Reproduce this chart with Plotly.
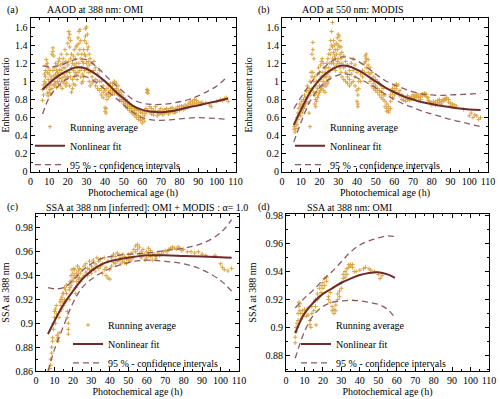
import plotly.graph_objects as go
from plotly.subplots import make_subplots

# (a) AAOD at 388 nm: OMI -- running average, one column of values per age
a_age = [6.5, 7, 7.5, 8, 8.5, 9, 9.5, 10, 10.5, 11, 11.5, 12, 12.5, 13, 13.5, 14, 14.5, 15, 15.5, 16,
         16.5, 17, 17.5, 18, 18.5, 19, 19.5, 20, 20.5, 21, 21.5, 22, 22.5, 23, 23.5, 24, 24.5, 25, 25.5, 26,
         26.5, 27, 27.5, 28, 28.5, 29, 29.5, 30, 30.5, 31, 31.5, 32, 33, 34, 35, 36, 37, 38, 39, 40,
         40.5, 41, 42, 43, 44, 45, 46, 47, 48, 49, 50, 51, 52, 53, 54, 55, 56, 57, 58, 59,
         60, 61, 62, 62.5, 63, 64, 65, 66, 67, 68, 69, 70, 71, 72, 73, 74, 75, 76, 77, 78,
         79, 80, 81, 82, 83, 84, 85, 86, 87, 88, 89, 90, 91, 92, 94, 96, 97, 100, 102, 103,
         104, 105, 106]
a_vals = [(0.79, 0.91), (0.85, 0.96), (1.0, 1.08), (1.12, 0.98, 1.05), (1.18, 1.24, 0.93), (1.1, 1.2, 0.87),
          (1.02, 0.84, 1.15), (0.88, 1.08, 0.95), (0.91, 1.0, 1.12), (0.86, 1.05, 0.97), (1.3, 1.02, 0.92),
          (1.37, 1.33, 1.12), (1.28, 1.06, 0.96), (1.15, 1.0, 0.95), (1.2, 1.08, 0.98), (1.05, 1.12, 0.93),
          (1.18, 1.0, 1.1), (1.22, 0.97, 1.07), (1.13, 1.03, 1.25), (1.18, 1.08, 0.95), (1.3, 1.12, 1.0),
          (1.2, 1.04, 0.92), (1.15, 1.25, 1.0), (1.08, 0.98, 1.2), (1.35, 1.15, 1.05), (1.22, 1.02, 0.95),
          (1.3, 1.1, 0.98), (1.42, 1.18, 1.05), (1.55, 1.48, 1.22), (1.52, 1.38, 1.1, 0.95), (1.45, 1.25, 1.05),
          (1.3, 1.15, 0.88), (1.2, 1.02, 0.92), (1.28, 1.12, 0.97), (1.35, 1.18, 1.05), (1.25, 1.1, 0.96),
          (1.38, 1.2, 1.08), (1.4, 1.15, 1.02), (1.48, 1.3, 1.1), (1.55, 1.42, 1.2), (1.57, 1.35, 1.12),
          (1.45, 1.25, 1.05), (1.3, 1.15, 0.98), (1.22, 1.08, 1.0), (1.35, 1.2, 1.05), (1.45, 1.3, 1.12),
          (1.58, 1.5, 1.28), (1.6, 1.42, 1.2), (1.52, 1.35, 1.15), (1.38, 1.22, 1.1), (1.3, 1.18, 1.0),
          (1.25, 1.1, 0.95), (1.2, 1.05, 0.98), (1.22, 1.12, 1.0), (1.15, 1.02, 0.95), (1.08, 1.0, 0.92),
          (1.12, 1.0, 0.9), (1.0, 0.92, 0.85), (0.95, 0.88, 0.82), (0.9, 0.71, 0.67), (0.7, 0.65, 0.85),
          (0.92, 0.86, 0.8), (0.95, 0.88, 0.83), (0.98, 0.9, 0.85), (0.92, 0.88, 0.95), (1.0, 0.9, 0.86),
          (0.98, 0.92, 0.88), (0.95, 0.9, 0.85), (0.88, 0.84, 0.8), (0.85, 0.8, 0.78), (0.82, 0.78, 0.75),
          (0.8, 0.76, 0.72), (0.78, 0.74, 0.7), (0.75, 0.72, 0.68), (0.73, 0.7, 0.66), (0.72, 0.68, 0.64),
          (0.7, 0.66, 0.62), (0.69, 0.64, 0.6), (0.68, 0.62, 0.58), (0.66, 0.6, 0.57), (0.65, 0.58, 0.54),
          (0.67, 0.62, 0.56), (0.7, 0.65), (0.88, 0.91), (0.9, 0.87, 0.68), (0.72, 0.66), (0.7, 0.64),
          (0.68, 0.63), (0.72, 0.67), (0.66, 0.62), (0.68, 0.64), (0.7, 0.65), (0.67, 0.63), (0.65, 0.69),
          (0.66, 0.7), (0.68, 0.64), (0.7, 0.66), (0.71, 0.67), (0.68, 0.65), (0.7, 0.66), (0.69, 0.72),
          (0.72, 0.68), (0.7, 0.73), (0.72, 0.69), (0.74, 0.7), (0.73, 0.71), (0.76, 0.72), (0.75, 0.78),
          (0.78, 0.74), (0.8, 0.76), (0.79, 0.75), (0.77, 0.74), (0.76,), (0.75, 0.77), (0.76,), (0.74,),
          (0.72,), (0.78,), (0.8,), (0.79,), (0.81,), (0.82,), (0.78,)]
a_fit_age = [6.5, 10, 15, 20, 25, 30, 35, 40, 45, 50, 55, 60, 65, 70, 75, 80, 85, 90, 95, 100, 106]
a_fit = [0.91, 0.98, 1.06, 1.12, 1.155, 1.14, 1.08, 1.0, 0.9, 0.81, 0.73, 0.685, 0.665, 0.66, 0.67, 0.69,
         0.715, 0.735, 0.76, 0.78, 0.81]
a_upper = [1.17, 1.16, 1.17, 1.21, 1.245, 1.24, 1.17, 1.07, 0.97, 0.88, 0.8, 0.76, 0.745, 0.745, 0.755,
           0.775, 0.8, 0.84, 0.89, 0.95, 1.06]
a_lower = [0.64, 0.82, 0.95, 1.03, 1.06, 1.05, 0.99, 0.91, 0.83, 0.74, 0.66, 0.6, 0.575, 0.57, 0.575,
           0.585, 0.595, 0.6, 0.595, 0.59, 0.58]

# (b) AOD at 550 nm: MODIS
b_age = [6.5, 7, 7.5, 8, 8.5, 9, 9.5, 10, 10.5, 11, 11.5, 12, 12.5, 13, 13.5, 14, 14.5, 15, 15.5, 16,
         16.5, 17, 17.5, 18, 18.5, 19, 19.5, 20, 20.5, 21, 21.5, 22, 22.5, 23, 23.5, 24, 24.5, 25, 25.5, 26,
         26.5, 27, 27.5, 28, 28.5, 29, 29.5, 30, 30.5, 31, 31.5, 32, 33, 34, 35, 36, 37, 38, 39, 40,
         40.5, 41, 42, 43, 44, 44.5, 45, 46, 47, 48, 49, 50, 51, 52, 53, 54, 55, 56, 57, 58,
         59, 60, 61, 62, 63, 64, 65, 66, 67, 68, 69, 70, 71, 72, 73, 74, 75, 76, 77, 78,
         79, 80, 81, 82, 83, 84, 85, 86, 87, 88, 89, 90, 91, 92, 93, 97, 100, 101, 102, 103,
         104, 105, 106]
b_vals = [(0.47, 0.5), (0.44, 0.52), (0.55, 0.48), (0.6, 0.52), (0.65, 0.58), (0.7, 0.62), (0.75, 0.65),
          (0.72, 0.62), (0.68, 0.78), (0.74, 0.66), (0.8, 0.7), (0.85, 0.72), (0.82, 0.75), (0.9, 0.78),
          (0.95, 0.82), (0.88, 0.76), (0.92, 0.65), (1.0, 0.85), (1.1, 0.9), (1.3, 1.05, 0.92),
          (1.43, 1.35, 1.1), (1.25, 1.0, 0.88), (1.05, 0.85, 0.75), (0.95, 0.8, 0.72), (1.0, 0.88, 0.78),
          (1.08, 0.92, 0.82), (1.15, 1.0, 0.85), (1.1, 0.95, 0.88), (1.18, 1.02, 0.9), (1.22, 1.05, 0.92),
          (1.25, 1.1, 0.95), (1.2, 1.0, 0.9), (1.15, 1.05, 0.95), (1.1, 0.98, 0.88), (1.15, 1.05, 0.95),
          (1.2, 1.08, 1.0), (1.25, 1.1, 0.98), (1.3, 1.15, 1.02), (1.35, 1.2, 1.05), (1.45, 1.3, 1.12),
          (1.55, 1.4, 1.2), (1.65, 1.38, 1.25), (1.45, 1.32, 1.2), (1.4, 1.28, 1.15), (1.35, 1.25, 1.12),
          (1.42, 1.3, 1.18), (1.48, 1.35, 1.22), (1.52, 1.4, 1.25), (1.5, 1.38, 1.2), (1.45, 1.3, 1.15),
          (1.38, 1.25, 1.1), (1.32, 1.2, 1.05), (1.28, 1.15, 1.02), (1.22, 1.1, 1.0), (1.18, 1.05, 0.98),
          (1.12, 1.02, 0.95), (1.2, 1.08, 0.98), (1.25, 1.12, 1.0), (1.18, 1.05, 0.95), (1.1, 0.9, 0.78),
          (0.75, 0.72, 0.85), (1.0, 0.92), (1.08, 1.0), (1.12, 1.05), (1.2, 1.1), (1.28, 1.22),
          (1.3, 1.25, 1.15), (1.24, 1.18, 1.1), (1.15, 1.08, 1.0), (1.1, 1.02, 0.95), (1.05, 0.98, 0.92),
          (1.02, 0.95, 0.9), (1.0, 0.92, 0.88), (0.98, 0.9, 0.85), (0.95, 0.88, 0.82), (0.92, 0.85, 0.8),
          (0.85, 0.78, 0.72), (0.75, 0.7, 0.67), (0.72, 0.68, 0.66), (0.85, 0.78, 0.7), (0.92, 0.88, 0.82),
          (0.95, 0.9, 0.85), (0.97, 0.92), (0.96, 0.88), (0.9, 0.84), (0.85, 0.8), (0.83, 0.79), (0.82, 0.78),
          (0.84, 0.8), (0.82, 0.79), (0.83, 0.8), (0.85, 0.81), (0.84, 0.82), (0.86, 0.83), (0.85, 0.82),
          (0.83, 0.8), (0.86, 0.84), (0.87, 0.85), (0.86, 0.83), (0.82, 0.79), (0.78, 0.76), (0.76, 0.74),
          (0.78, 0.75), (0.77, 0.74), (0.79, 0.76), (0.8, 0.77), (0.78, 0.75), (0.8, 0.78), (0.81, 0.79),
          (0.82, 0.8), (0.8, 0.77), (0.76, 0.73), (0.75, 0.72), (0.74,), (0.73,), (0.69,), (0.62,), (0.65,),
          (0.6,), (0.63,), (0.62,), (0.58,), (0.6,)]
b_fit_age = [6.3, 10, 15, 20, 25, 30, 32.5, 35, 40, 45, 50, 55, 60, 65, 70, 75, 80, 85, 90, 95, 100, 106]
b_fit = [0.52, 0.68, 0.88, 1.02, 1.11, 1.165, 1.175, 1.17, 1.13, 1.07, 1.0, 0.935, 0.88, 0.835, 0.8, 0.77,
         0.75, 0.73, 0.715, 0.7, 0.69, 0.685]
b_upper = [0.7, 0.82, 0.97, 1.1, 1.2, 1.26, 1.27, 1.265, 1.23, 1.16, 1.08, 1.01, 0.96, 0.92, 0.885, 0.86,
           0.85, 0.845, 0.85, 0.855, 0.86, 0.87]
b_lower = [0.33, 0.54, 0.78, 0.93, 1.02, 1.07, 1.08, 1.08, 1.04, 0.99, 0.93, 0.86, 0.8, 0.75, 0.71, 0.67,
           0.64, 0.61, 0.58, 0.555, 0.53, 0.5]

# (c) SSA at 388 nm inferred from OMI + MODIS
c_age = [7.5, 8, 8.5, 9, 9.5, 10, 10.5, 11, 11.5, 12, 12.5, 13, 13.5, 14, 14.5, 15, 15.5, 16, 16.5, 17,
         17.5, 18, 18.5, 19, 19.5, 20, 20.5, 21, 21.5, 22, 22.5, 23, 23.5, 24, 25, 26, 27, 28, 29, 30,
         31, 32, 33, 34, 35, 36, 37, 38, 39, 40, 41, 42, 43, 44, 45, 46, 47, 48, 49, 50,
         51, 52, 53, 54, 55, 56, 57, 58, 59, 60, 61, 62, 63, 64, 65, 66, 67, 68, 69, 70,
         71, 72, 73, 74, 75, 76, 77, 78, 79, 80, 82, 84, 86, 88, 90, 92, 97, 100, 101, 102,
         104, 106]
c_vals = [(0.862,), (0.865, 0.87), (0.875, 0.88), (0.885, 0.888), (0.895, 0.9), (0.905, 0.91), (0.9, 0.912),
          (0.915, 0.908), (0.886, 0.89), (0.885, 0.888), (0.892, 0.905), (0.91, 0.918), (0.915, 0.92),
          (0.922, 0.912), (0.918, 0.925), (0.925, 0.915), (0.93, 0.92), (0.928, 0.918), (0.932, 0.925),
          (0.91, 0.905), (0.895, 0.891, 0.9), (0.92, 0.928), (0.935, 0.93), (0.94, 0.932), (0.945, 0.936),
          (0.942, 0.935), (0.938, 0.946), (0.945, 0.94), (0.93, 0.925), (0.942, 0.935), (0.948, 0.94),
          (0.944, 0.937), (0.938, 0.946), (0.942, 0.935), (0.945, 0.938), (0.948, 0.94), (0.95, 0.943),
          (0.946, 0.94), (0.952, 0.945), (0.948, 0.942), (0.953, 0.946), (0.95, 0.944), (0.955, 0.948),
          (0.952, 0.946), (0.954, 0.948), (0.95, 0.942), (0.955, 0.945), (0.947, 0.94), (0.952, 0.938),
          (0.945, 0.937), (0.955, 0.948), (0.958, 0.951), (0.956, 0.95), (0.959, 0.952), (0.957, 0.953),
          (0.955, 0.95), (0.958, 0.952), (0.956, 0.951), (0.954, 0.95), (0.958, 0.953), (0.956, 0.952),
          (0.959, 0.954), (0.962, 0.956), (0.965, 0.96), (0.966, 0.962), (0.964, 0.958), (0.96, 0.955),
          (0.962, 0.957), (0.958, 0.953), (0.96, 0.955), (0.963, 0.958), (0.961, 0.956), (0.957, 0.953),
          (0.958,), (0.956, 0.954), (0.959,), (0.957,), (0.958,), (0.96,), (0.961,), (0.96,), (0.962,),
          (0.963,), (0.964,), (0.963,), (0.962,), (0.964,), (0.963,), (0.961,), (0.962,), (0.96,), (0.96,),
          (0.959,), (0.96,), (0.958,), (0.957,), (0.957,), (0.95,), (0.947,), (0.945,), (0.944,), (0.946,)]
c_fit_age = [6.5, 10, 15, 20, 25, 30, 35, 40, 50, 60, 70, 80, 90, 100, 106]
c_fit = [0.891, 0.902, 0.916, 0.927, 0.937, 0.944, 0.949, 0.952, 0.955, 0.957, 0.957, 0.9565, 0.956,
         0.9555, 0.955]
c_upper = [0.93, 0.929, 0.93, 0.936, 0.944, 0.95, 0.954, 0.956, 0.958, 0.959, 0.961, 0.963, 0.967, 0.976,
           0.987]
c_lower = [0.86, 0.878, 0.898, 0.917, 0.93, 0.937, 0.942, 0.946, 0.951, 0.953, 0.952, 0.95, 0.945, 0.936,
           0.927]

# (d) SSA at 388 nm: OMI
d_age = [5, 5.5, 6, 6.5, 7, 7.5, 8, 9, 10, 11, 12, 13, 13.5, 14, 15, 16, 17, 18, 19, 20,
         21, 22, 23, 24, 25, 26, 27, 28, 29, 30, 31, 32, 33, 34, 35, 36, 37, 38, 40, 42,
         43, 45, 46, 48, 50, 51, 52]
d_vals = [(0.889, 0.893), (0.897, 0.9), (0.9, 0.903), (0.905, 0.91), (0.915, 0.918), (0.917, 0.912),
          (0.91, 0.906), (0.908, 0.912), (0.913, 0.91), (0.908, 0.912), (0.914, 0.909), (0.905, 0.902),
          (0.9,), (0.91, 0.915), (0.918, 0.912), (0.92, 0.915), (0.924, 0.92), (0.928, 0.922), (0.93, 0.925),
          (0.932, 0.928), (0.935, 0.93), (0.933, 0.936), (0.922, 0.92), (0.925, 0.918), (0.915, 0.912),
          (0.913, 0.91), (0.912, 0.916), (0.92, 0.924), (0.926, 0.922), (0.928, 0.932), (0.935, 0.938),
          (0.94, 0.936), (0.938, 0.942), (0.943, 0.945), (0.945, 0.944), (0.945, 0.943), (0.94,), (0.94,),
          (0.941,), (0.942,), (0.943,), (0.942,), (0.941,), (0.94,), (0.938,), (0.935,), (0.937,)]
d_fit_age = [5, 10, 15, 20, 25, 30, 35, 40, 45, 50, 55, 59]
d_fit = [0.896, 0.91, 0.918, 0.924, 0.928, 0.932, 0.935, 0.9375, 0.939, 0.9395, 0.938, 0.9355]
d_upper = [0.914, 0.921, 0.927, 0.934, 0.94, 0.947, 0.954, 0.959, 0.962, 0.964, 0.9655, 0.965]
d_lower = [0.878, 0.897, 0.909, 0.915, 0.918, 0.919, 0.9195, 0.919, 0.918, 0.9165, 0.913, 0.907]

POINT_COLOR = "#D9A441"
FIT_COLOR = "#6E2B2B"
CI_COLOR = "#8E5A5F"
FONT = "Liberation Serif, Times New Roman, serif"


def flatten(ages, vals):
    """Expand one column of running-average values per age into x/y lists."""
    xs, ys = [], []
    for age, column in zip(ages, vals):
        for v in column:
            xs.append(age)
            ys.append(v)
    return xs, ys


panels = [
    dict(row=1, col=1, ages=a_age, vals=a_vals, fit_age=a_fit_age, fit=a_fit, upper=a_upper,
         lower=a_lower, legend="legend"),
    dict(row=1, col=2, ages=b_age, vals=b_vals, fit_age=b_fit_age, fit=b_fit, upper=b_upper,
         lower=b_lower, legend="legend2"),
    dict(row=2, col=1, ages=c_age, vals=c_vals, fit_age=c_fit_age, fit=c_fit, upper=c_upper,
         lower=c_lower, legend="legend3"),
    dict(row=2, col=2, ages=d_age, vals=d_vals, fit_age=d_fit_age, fit=d_fit, upper=d_upper,
         lower=d_lower, legend="legend4"),
]

fig = make_subplots(rows=2, cols=2)

for p in panels:
    xs, ys = flatten(p["ages"], p["vals"])
    fig.add_trace(
        go.Scatter(
            x=xs, y=ys, mode="markers", name="Running average", legend=p["legend"],
            marker=dict(symbol="cross-thin", size=3, color=POINT_COLOR,
                        line=dict(width=1, color=POINT_COLOR)),
        ),
        row=p["row"], col=p["col"],
    )
    fig.add_trace(
        go.Scatter(
            x=p["fit_age"], y=p["fit"], mode="lines", name="Nonlinear fit", legend=p["legend"],
            line=dict(color=FIT_COLOR, width=2, shape="spline"),
        ),
        row=p["row"], col=p["col"],
    )
    for i, band in enumerate([p["upper"], p["lower"]]):
        fig.add_trace(
            go.Scatter(
                x=p["fit_age"], y=band, mode="lines", name="95 % - confidence intervals",
                legend=p["legend"], legendgroup="ci" + p["legend"], showlegend=(i == 0),
                line=dict(color=CI_COLOR, width=1.3, dash="6px,4px", shape="spline"),
            ),
            row=p["row"], col=p["col"],
        )

axis_common = dict(
    showline=True, linecolor="black", linewidth=1, mirror="allticks", ticks="inside",
    ticklen=4, tickcolor="black", showgrid=False, zeroline=False, automargin=False,
    tickfont=dict(family=FONT, size=10, color="black"),
    title_font=dict(family=FONT, size=10, color="black"),
)

fig.update_xaxes(
    range=[0, 110], tick0=0, dtick=10, title_text="Photochemical age (h)", title_standoff=2,
    minor=dict(dtick=5, ticks="inside", ticklen=2, tickcolor="black"), **axis_common,
)
fig.update_yaxes(
    range=[0, 1.7], tick0=0, dtick=0.2, title_text="Enhancement ratio",
    minor=dict(dtick=0.1, ticks="inside", ticklen=2, tickcolor="black"), row=1, **axis_common,
)
fig.update_yaxes(
    tick0=0.86, dtick=0.02, title_text="SSA at 388 nm",
    minor=dict(dtick=0.01, ticks="inside", ticklen=2, tickcolor="black"), row=2, **axis_common,
)
fig.update_yaxes(range=[0.86, 0.9917], row=2, col=1)
fig.update_yaxes(range=[0.8688, 0.9812], row=2, col=2)

legend_style = dict(
    bgcolor="rgba(0,0,0,0)", font=dict(family=FONT, size=10, color="black"),
    xanchor="left", yanchor="middle", itemwidth=30, tracegroupgap=0,
)

fig.update_layout(
    width=500,
    height=399,
    template="none",
    plot_bgcolor="white",
    paper_bgcolor="white",
    margin=dict(l=0, r=0, t=0, b=0),
    font=dict(family=FONT, size=10, color="black"),
    xaxis=dict(domain=[0.061, 0.471]),
    xaxis2=dict(domain=[0.564, 0.976]),
    xaxis3=dict(domain=[0.072, 0.478]),
    xaxis4=dict(domain=[0.572, 0.978]),
    yaxis=dict(domain=[0.569, 0.955]),
    yaxis2=dict(domain=[0.569, 0.955]),
    yaxis3=dict(domain=[0.07, 0.4637]),
    yaxis4=dict(domain=[0.07, 0.4637]),
    legend=dict(x=0.06, y=0.635, **legend_style),
    legend2=dict(x=0.58, y=0.635, **legend_style),
    legend3=dict(x=0.136, y=0.138, **legend_style),
    legend4=dict(x=0.592, y=0.138, **legend_style),
)

titles = [
    (0.01, 0.975, "(a)"), (0.09, 0.975, "AAOD at 388 nm: OMI"),
    (0.512, 0.975, "(b)"), (0.6, 0.975, "AOD at 550 nm: MODIS"),
    (0.01, 0.481, "(c)"), (0.088, 0.481, "SSA at 388 nm [inferred]: OMI + MODIS : α= 1.0"),
    (0.512, 0.481, "(d)"), (0.61, 0.481, "SSA at 388 nm: OMI"),
]
for x, y, text in titles:
    fig.add_annotation(
        x=x, y=y, xref="paper", yref="paper", text=text, showarrow=False,
        xanchor="left", yanchor="middle", font=dict(family=FONT, size=10, color="black"),
    )

# the page's default body margin would push the 500x399 figure out of the window
fig.write_html(
    "out.html",
    config={"displayModeBar": False},
    post_script="document.body.style.margin='0';",
)
